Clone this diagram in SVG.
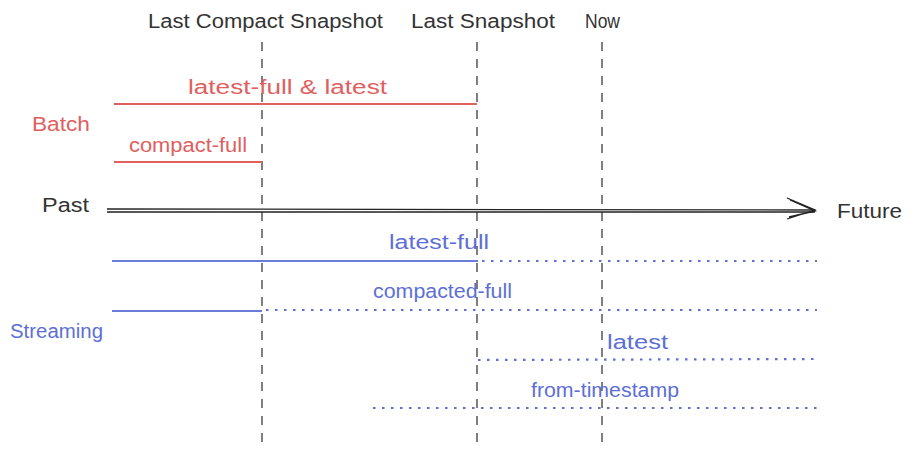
<svg xmlns="http://www.w3.org/2000/svg" width="913" height="455" viewBox="0 0 913 455">
<style>
text { font-family: "Liberation Sans", "Open Sans", sans-serif; font-size: 20px; }
.dark { fill: #333333; }
.red { fill: #e06060; }
.blue { fill: #5d6fd6; }
.vline { stroke: #555555; stroke-width: 1.5; stroke-dasharray: 9 8; fill: none; }
.redline { stroke: #e06060; stroke-width: 2; fill: none; }
.blueline { stroke: #6b7ddb; stroke-width: 2.2; fill: none; }
.dotline { stroke: #5d6fd6; stroke-width: 2.2; stroke-dasharray: 2.5 6.5; fill: none; }
.axis { stroke: #222222; stroke-width: 1.3; fill: none; }
</style>
<rect width="913" height="455" fill="#ffffff"/>

<g id="markers">
  <g id="marker-last-compact">
    <text class="dark" x="148" y="28" textLength="235" lengthAdjust="spacingAndGlyphs">Last Compact Snapshot</text>
    <line class="vline" x1="262" y1="42" x2="262" y2="445"/>
  </g>
  <g id="marker-last-snapshot">
    <text class="dark" x="411" y="28" textLength="144" lengthAdjust="spacingAndGlyphs">Last Snapshot</text>
    <line class="vline" x1="477" y1="42" x2="477" y2="445"/>
  </g>
  <g id="marker-now">
    <text class="dark" x="585" y="28" textLength="35" lengthAdjust="spacingAndGlyphs">Now</text>
    <line class="vline" x1="602" y1="42" x2="602" y2="445"/>
  </g>
</g>

<g id="timeline">
  <text class="dark" x="42" y="212" textLength="47" lengthAdjust="spacingAndGlyphs">Past</text>
  <text class="dark" x="837" y="218" textLength="65" lengthAdjust="spacingAndGlyphs">Future</text>
</g>

<g id="batch">
  <text class="red" x="32" y="131" textLength="58" lengthAdjust="spacingAndGlyphs">Batch</text>
  <g id="batch-latest">
    <text class="red" x="188" y="94" textLength="199" lengthAdjust="spacingAndGlyphs">latest-full &amp; latest</text>
  </g>
  <g id="batch-compact">
    <text class="red" x="129" y="152" textLength="118" lengthAdjust="spacingAndGlyphs">compact-full</text>
  </g>
</g>

<g id="streaming">
  <text class="blue" x="10" y="338" textLength="93" lengthAdjust="spacingAndGlyphs">Streaming</text>
  <g id="stream-latest-full">
    <text class="blue" x="389" y="249" textLength="100" lengthAdjust="spacingAndGlyphs">latest-full</text>
  </g>
  <g id="stream-compacted-full">
    <text class="blue" x="373" y="298" textLength="139" lengthAdjust="spacingAndGlyphs">compacted-full</text>
  </g>
  <g id="stream-latest">
    <text class="blue" x="607" y="349" textLength="61" lengthAdjust="spacingAndGlyphs">latest</text>
  </g>
  <g id="stream-from-timestamp">
    <text class="blue" x="531" y="397" textLength="148" lengthAdjust="spacingAndGlyphs">from-timestamp</text>
  </g>
</g>

<g id="connectors">
  <path class="axis" d="M107 209 L815 210 M107 212 L815 212"/>
  <path class="axis" d="M787 198 L815 210 L787 219 M790 200 L815 211 L789 217"/>
  <line class="redline" x1="114" y1="104" x2="477" y2="104"/>
  <line class="redline" x1="114" y1="162" x2="262" y2="162"/>
  <line class="blueline" x1="112" y1="261" x2="478" y2="261"/>
  <line class="dotline" x1="482" y1="261" x2="817" y2="261"/>
  <line class="blueline" x1="112" y1="311" x2="262" y2="311"/>
  <line class="dotline" x1="266" y1="310" x2="817" y2="310"/>
  <line class="dotline" x1="478" y1="360" x2="817" y2="359"/>
  <line class="dotline" x1="373" y1="408" x2="817" y2="408"/>
</g>
</svg>
